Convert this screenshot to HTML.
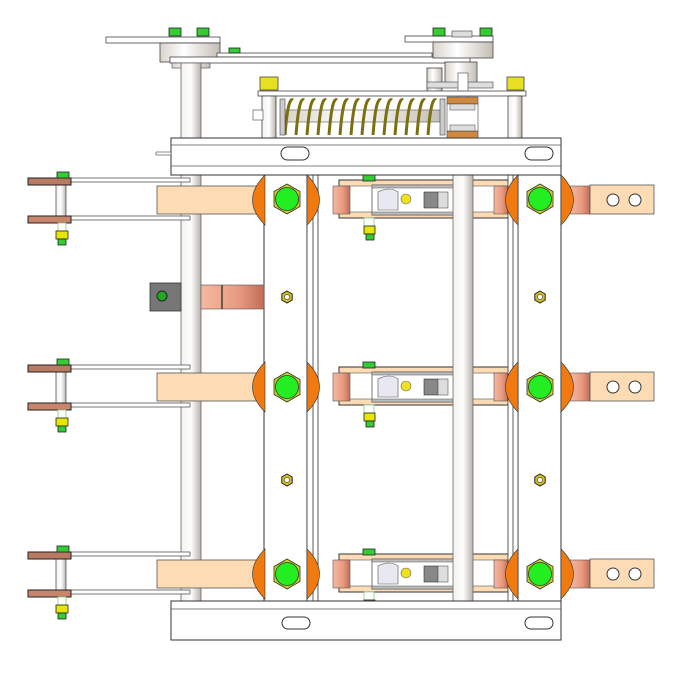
<!DOCTYPE html>
<html><head><meta charset="utf-8"><style>
html,body{margin:0;padding:0;background:#fff}
svg{display:block}
</style></head><body>
<svg width="700" height="698" viewBox="0 0 700 698" xmlns="http://www.w3.org/2000/svg">
<defs>
<linearGradient id="rod" x1="0" x2="1"><stop offset="0" stop-color="#f4f1ec"/><stop offset="0.5" stop-color="#fff"/><stop offset="1" stop-color="#b8b2aa"/></linearGradient>
<linearGradient id="cu" x1="0" x2="1"><stop offset="0" stop-color="#f5b8a0"/><stop offset="0.6" stop-color="#e89a80"/><stop offset="1" stop-color="#c26c55"/></linearGradient>
<linearGradient id="hub" x1="0" x2="1"><stop offset="0" stop-color="#d9d3cb"/><stop offset="0.4" stop-color="#fff"/><stop offset="1" stop-color="#c4bdb4"/></linearGradient>
<g id="row">
  <rect x="157" y="186" width="100" height="28" fill="#fddcb5" stroke="#555" stroke-width="0.8"/>
  <rect x="71" y="178" width="119" height="4" fill="#fff" stroke="#555" stroke-width="0.8"/>
  <rect x="71" y="216" width="119" height="4" fill="#fff" stroke="#555" stroke-width="0.8"/>
  <rect x="56" y="185" width="10" height="31" fill="url(#rod)" stroke="#555" stroke-width="0.8"/>
  <rect x="28" y="178" width="43" height="7" fill="#b97a62" stroke="#222" stroke-width="1"/>
  <rect x="28" y="216" width="43" height="7" fill="#c9856b" stroke="#222" stroke-width="1"/>
  <rect x="57" y="172" width="12" height="6" fill="#33cc33" stroke="#222" stroke-width="0.8"/>
  <rect x="58" y="223" width="8" height="8" fill="#fff" stroke="#8c8" stroke-width="0.8"/>
  <rect x="56" y="231" width="12" height="8" fill="#e6e600" stroke="#222" stroke-width="0.8"/>
  <rect x="58" y="239" width="8" height="6" fill="#33cc33" stroke="#222" stroke-width="0.8"/>
  <rect x="339" y="180" width="171" height="38" fill="#fddcb5" stroke="#333" stroke-width="1"/>
  <rect x="339" y="186" width="171" height="26" fill="#fff" stroke="#555" stroke-width="0.6"/>
  <rect x="333" y="186" width="17" height="28" fill="url(#cu)" stroke="#555" stroke-width="0.6"/>
  <rect x="494" y="186" width="14" height="28" fill="url(#cu)" stroke="#555" stroke-width="0.6"/>
  <rect x="372" y="185" width="90" height="30" fill="#fff" stroke="#555" stroke-width="0.8"/>
  <rect x="372" y="185" width="90" height="3" fill="#bbb" stroke="#555" stroke-width="0.5"/>
  <rect x="372" y="212" width="90" height="3" fill="#bbb" stroke="#555" stroke-width="0.5"/>
  <path d="M378 192 Q390 186 398 192 L398 210 L378 210 Z" fill="#e8e8f2" stroke="#555" stroke-width="0.6"/>
  <circle cx="406" cy="199" r="5" fill="#f0e020" stroke="#666" stroke-width="0.6"/>
  <rect x="424" y="192" width="14" height="16" fill="#888" stroke="#333" stroke-width="0.6"/>
  <rect x="438" y="192" width="10" height="16" fill="#ddd" stroke="#555" stroke-width="0.6"/>
  <rect x="363" y="175" width="12" height="6" fill="#33cc33" stroke="#222" stroke-width="0.8"/>
  <rect x="364" y="218" width="10" height="8" fill="#fff" stroke="#8c8" stroke-width="0.8"/>
  <rect x="364" y="226" width="11" height="8" fill="#e6e600" stroke="#222" stroke-width="0.8"/>
  <rect x="366" y="234" width="8" height="6" fill="#33cc33" stroke="#222" stroke-width="0.8"/>
  <rect x="570" y="186" width="20" height="28" fill="url(#cu)" stroke="#555" stroke-width="0.6"/>
  <rect x="590" y="185" width="64" height="29" fill="#fddcb5" stroke="#555" stroke-width="0.8"/>
  <circle cx="613" cy="200" r="6" fill="#fff" stroke="#333"/>
  <circle cx="635" cy="200" r="6" fill="#fff" stroke="#333"/>
</g>
<g id="discs">
  <path d="M265 175 Q240 200 265 225 Z" fill="#f07a10" stroke="#333" stroke-width="0.6"/>
  <path d="M307 175 Q332 200 307 225 Z" fill="#f07a10" stroke="#333" stroke-width="0.6"/>
  <path d="M518 175 Q493 200 518 225 Z" fill="#f07a10" stroke="#333" stroke-width="0.6"/>
  <path d="M561 175 Q586 200 561 225 Z" fill="#f07a10" stroke="#333" stroke-width="0.6"/>
</g>
<g id="bolt">
  <polygon points="0,-15 13,-7.5 13,7.5 0,15 -13,7.5 -13,-7.5" fill="#c8d020" stroke="#333" stroke-width="0.8"/>
  <circle r="11.5" fill="#22ee22" stroke="#333" stroke-width="0.8"/>
</g>
<g id="nut">
  <polygon points="0,-6 5.2,-3 5.2,3 0,6 -5.2,3 -5.2,-3" fill="#d8c020" stroke="#222" stroke-width="1"/>
  <circle r="2.6" fill="#fff" stroke="#333" stroke-width="0.6"/>
</g>
</defs>

<rect x="106" y="37" width="114" height="6" fill="#fff" stroke="#444" stroke-width="0.8"/>
<rect x="160" y="43" width="60" height="19" fill="url(#hub)" stroke="#444" stroke-width="0.8"/>
<rect x="217" y="53" width="215" height="4" fill="#fff" stroke="#444" stroke-width="0.8"/>
<rect x="170" y="57" width="300" height="6" fill="#fff" stroke="#444" stroke-width="0.8"/>
<rect x="172" y="63" width="38" height="5" fill="url(#hub)" stroke="#444" stroke-width="0.6"/>
<rect x="169" y="28" width="12" height="8" fill="#33cc33" stroke="#222" stroke-width="0.8"/>
<rect x="197" y="28" width="12" height="8" fill="#33cc33" stroke="#222" stroke-width="0.8"/>
<rect x="229" y="48" width="11" height="5" fill="#33cc33" stroke="#222" stroke-width="0.8"/>
<rect x="405" y="36" width="88" height="6" fill="#fff" stroke="#444" stroke-width="0.8"/>
<rect x="433" y="42" width="60" height="16" fill="url(#hub)" stroke="#444" stroke-width="0.8"/>
<rect x="433" y="28" width="12" height="8" fill="#33cc33" stroke="#222" stroke-width="0.8"/>
<rect x="480" y="28" width="12" height="8" fill="#33cc33" stroke="#222" stroke-width="0.8"/>
<rect x="452" y="31" width="20" height="6" fill="#ddd" stroke="#444" stroke-width="0.6"/>
<rect x="445" y="62" width="32" height="25" fill="url(#hub)" stroke="#444" stroke-width="0.8"/>
<rect x="427" y="68" width="15" height="25" fill="url(#hub)" stroke="#444" stroke-width="0.8"/>
<rect x="427" y="82" width="66" height="6" fill="#ddd" stroke="#444" stroke-width="0.6"/>
<rect x="458" y="73" width="10" height="30" fill="#fff" stroke="#444" stroke-width="0.6"/>
<rect x="258" y="91" width="268" height="5" fill="#fff" stroke="#444" stroke-width="0.8"/>
<rect x="260" y="77" width="18" height="13" fill="#e6e020" stroke="#444" stroke-width="0.8"/>
<rect x="507" y="77" width="17" height="13" fill="#e6e020" stroke="#444" stroke-width="0.8"/>
<rect x="262" y="96" width="14" height="42" fill="url(#rod)" stroke="#444" stroke-width="0.8"/>
<rect x="508" y="96" width="14" height="42" fill="url(#rod)" stroke="#444" stroke-width="0.8"/>
<rect x="253" y="110" width="10" height="10" fill="#fff" stroke="#444" stroke-width="0.6"/>
<rect x="285" y="110" width="158" height="12" fill="url(#hub)" stroke="#555" stroke-width="0.6"/>
<g fill="none" stroke="#7a7010" stroke-width="3">
<path d="M285 135 Q288 96 293 100 M296 135 Q299 96 304 100 M307 135 Q310 96 315 100 M318 135 Q321 96 326 100 M329 135 Q332 96 337 100 M340 135 Q343 96 348 100 M351 135 Q354 96 359 100 M362 135 Q365 96 370 100 M373 135 Q376 96 381 100 M384 135 Q387 96 392 100 M395 135 Q398 96 403 100 M406 135 Q409 96 414 100 M417 135 Q420 96 425 100 M428 135 Q431 96 436 100"/>
</g>
<rect x="280" y="99" width="5" height="36" fill="#ccc" stroke="#444" stroke-width="0.6"/>
<rect x="440" y="99" width="5" height="36" fill="#ccc" stroke="#444" stroke-width="0.6"/>
<rect x="447" y="97" width="31" height="7" fill="#d08a40" stroke="#444" stroke-width="0.6"/>
<rect x="447" y="131" width="31" height="7" fill="#d08a40" stroke="#444" stroke-width="0.6"/>
<rect x="447" y="104" width="31" height="27" fill="#fff" stroke="#444" stroke-width="0.6"/>
<rect x="450" y="104" width="25" height="6" fill="#ddd" stroke="#444" stroke-width="0.5"/>
<rect x="450" y="125" width="25" height="6" fill="#ddd" stroke="#444" stroke-width="0.5"/>

<rect x="181" y="63" width="20" height="540" fill="url(#rod)" stroke="#666" stroke-width="0.8"/>

<use href="#row"/>
<use href="#row" y="187"/>
<use href="#row" y="374"/>

<rect x="264" y="175" width="43" height="426" fill="#fff" stroke="#333" stroke-width="1"/>
<rect x="307" y="175" width="11" height="426" fill="#fff" stroke="#333" stroke-width="0.8"/>
<line x1="313" y1="175" x2="313" y2="601" stroke="#333" stroke-width="0.8"/>
<rect x="518" y="175" width="43" height="426" fill="#fff" stroke="#333" stroke-width="1"/>
<rect x="508" y="175" width="10" height="426" fill="#fff" stroke="#333" stroke-width="0.8"/>
<line x1="513" y1="175" x2="513" y2="601" stroke="#333" stroke-width="0.8"/>
<rect x="453" y="175" width="20" height="426" fill="url(#rod)" stroke="#666" stroke-width="0.8"/>

<use href="#discs"/>
<use href="#discs" y="187"/>
<use href="#discs" y="374"/>

<use href="#bolt" x="287" y="199"/>
<use href="#bolt" x="540" y="199"/>
<use href="#bolt" x="287" y="387"/>
<use href="#bolt" x="540" y="387"/>
<use href="#bolt" x="287" y="574"/>
<use href="#bolt" x="540" y="574"/>
<use href="#nut" x="287" y="297"/>
<use href="#nut" x="540" y="297"/>
<use href="#nut" x="287" y="480"/>
<use href="#nut" x="540" y="480"/>

<rect x="150" y="283" width="31" height="28" fill="#777" stroke="#333" stroke-width="0.8"/>
<circle cx="162" cy="296" r="5" fill="#22aa22" stroke="#222"/>
<rect x="201" y="285" width="63" height="24" fill="url(#cu)" stroke="#555" stroke-width="0.6"/>
<line x1="222" y1="285" x2="222" y2="309" stroke="#222" stroke-width="1.2"/>

<rect x="171" y="138" width="390" height="37" fill="#fff" stroke="#333" stroke-width="1"/>
<line x1="171" y1="145" x2="561" y2="145" stroke="#555" stroke-width="0.8"/>
<line x1="171" y1="166" x2="561" y2="166" stroke="#555" stroke-width="0.8"/>
<rect x="156" y="152" width="15" height="3" fill="#fff" stroke="#444" stroke-width="0.6"/>
<rect x="281" y="147" width="28" height="13" rx="6.5" fill="#fff" stroke="#333"/>
<rect x="525" y="147" width="28" height="13" rx="6.5" fill="#fff" stroke="#333"/>

<rect x="171" y="601" width="390" height="39" fill="#fff" stroke="#333" stroke-width="1"/>
<line x1="171" y1="609" x2="561" y2="609" stroke="#555" stroke-width="0.8"/>
<rect x="282" y="617" width="28" height="12" rx="6" fill="#fff" stroke="#333"/>
<rect x="525" y="617" width="28" height="12" rx="6" fill="#fff" stroke="#333"/>
</svg>
</body></html>
